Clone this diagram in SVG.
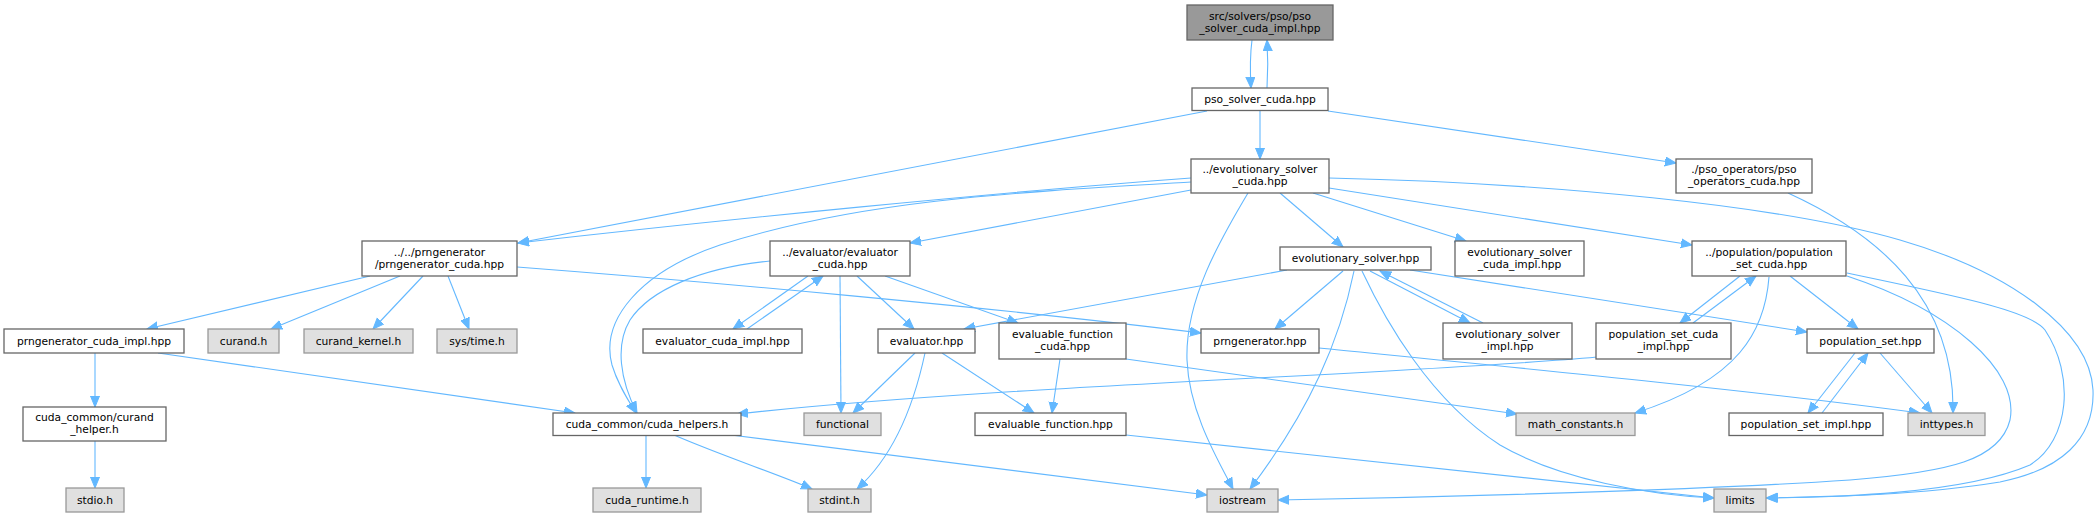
<svg xmlns="http://www.w3.org/2000/svg" width="2100" height="517" viewBox="0 0 2100 517">
<style>
.n rect{fill:#ffffff;stroke:#666666;stroke-width:1.3}
.x rect{fill:#e0e0e0;stroke:#999999;stroke-width:1.3}
.m rect{fill:#999999;stroke:#666666;stroke-width:1.3}
text{font-family:"DejaVu Sans",sans-serif;font-size:10.7px;fill:#000000;text-anchor:middle}
#edges path{fill:none;stroke:#63b8ff;stroke-width:1.1;marker-end:url(#a)}
</style>
<defs>
<marker id="a" markerWidth="13" markerHeight="11" refX="11" refY="5" orient="auto" markerUnits="userSpaceOnUse">
<path d="M0,0.5 L11,5 L0,9.5 z" fill="#63b8ff" stroke="#63b8ff" stroke-width="1"/>
</marker>
</defs>
<rect width="2100" height="517" fill="#ffffff"/>
<g id="edges">
<path d="M1252,40 C1250,55 1250,70 1251,88"/>
<path d="M1267,88 C1268,72 1268,56 1267,40"/>
<path d="M1260,110 L1260,159"/>
<path d="M1207,111 L518,243"/>
<path d="M1328,111 L1676,163"/>
<path d="M1191,178 C1000,192 720,220 518,243"/>
<path d="M1191,182 C1020,192 860,200 720,245 C640,272 600,320 612,365 C618,385 628,400 636,413"/>
<path d="M770,261 C700,268 650,290 630,320 C615,345 620,380 637,413"/>
<path d="M1191,190 L910,243"/>
<path d="M1248,193 C1220,240 1185,300 1187,360 C1189,410 1215,455 1233,489"/>
<path d="M1280,193 L1343,247"/>
<path d="M1313,193 L1466,241"/>
<path d="M1329,188 L1692,245"/>
<path d="M1329,178 C1550,183 1780,205 1900,240 C2010,272 2090,330 2093,390 C2095,440 2060,470 2000,482 C1920,495 1830,497 1766,498"/>
<path d="M370,276 L147,329"/>
<path d="M400,276 L271,329"/>
<path d="M423,276 L373,329"/>
<path d="M448,276 L469,329"/>
<path d="M517,267 C700,281 1000,308 1201,333"/>
<path d="M95,353 L95,407"/>
<path d="M158,353 L575,413"/>
<path d="M95,441 L95,488"/>
<path d="M646,435 L646,488"/>
<path d="M674,435 C720,455 780,475 812,489"/>
<path d="M731,435 L1207,495"/>
<path d="M808,276 L733,329"/>
<path d="M840,276 L841,413"/>
<path d="M857,276 L914,329"/>
<path d="M885,276 L1018,323"/>
<path d="M747,329 L823,276"/>
<path d="M915,353 L853,413"/>
<path d="M925,353 C915,400 895,455 857,489"/>
<path d="M942,353 L1034,413"/>
<path d="M1060,359 L1052,413"/>
<path d="M1126,359 L1517,414"/>
<path d="M1126,435 L1714,498"/>
<path d="M1287,270 L964,329"/>
<path d="M1343,271 L1275,329"/>
<path d="M1354,271 C1340,340 1310,410 1250,489"/>
<path d="M1362,271 C1385,320 1430,400 1500,445 C1560,480 1650,495 1714,498"/>
<path d="M1370,271 L1470,323"/>
<path d="M1483,323 L1380,271"/>
<path d="M1410,270 L1807,332"/>
<path d="M1319,348 C1500,366 1750,390 1920,413"/>
<path d="M1740,276 L1680,323"/>
<path d="M1693,323 L1756,276"/>
<path d="M1790,276 L1858,329"/>
<path d="M1769,277 C1765,330 1740,380 1635,413"/>
<path d="M1847,276 C1950,310 2020,370 2010,420 C2000,460 1950,472 1850,480 C1700,490 1450,497 1278,500"/>
<path d="M1847,273 C1950,295 2030,310 2045,330 C2075,375 2070,440 2030,465 C1960,495 1830,497 1767,498"/>
<path d="M1597,357 C1400,375 1000,385 737,414"/>
<path d="M1880,353 L1932,413"/>
<path d="M1855,353 L1808,413"/>
<path d="M1822,413 L1868,353"/>
<path d="M1788,193 C1880,235 1955,300 1953,413"/>
</g>
<g id="main" class="m"><rect x="1187" y="5" width="146" height="35"/><text x="1260" y="19.5">src/solvers/pso/pso</text><text x="1260" y="31.5">_solver_cuda_impl.hpp</text></g>
<g id="pso_solver_cuda" class="n"><rect x="1192" y="88" width="136" height="22.5"/><text x="1260" y="103">pso_solver_cuda.hpp</text></g>
<g id="evolutionary_solver_cuda" class="n"><rect x="1191" y="159" width="138" height="34"/><text x="1260" y="173">../evolutionary_solver</text><text x="1260" y="185">_cuda.hpp</text></g>
<g id="pso_operators_cuda" class="n"><rect x="1676" y="159" width="136" height="34"/><text x="1744" y="173">./pso_operators/pso</text><text x="1744" y="185">_operators_cuda.hpp</text></g>
<g id="prngenerator_cuda" class="n"><rect x="362" y="241" width="155" height="35"/><text x="439.5" y="255.5">../../prngenerator</text><text x="439.5" y="267.5">/prngenerator_cuda.hpp</text></g>
<g id="evaluator_cuda" class="n"><rect x="770" y="241" width="140" height="35"/><text x="840" y="255.5">../evaluator/evaluator</text><text x="840" y="267.5">_cuda.hpp</text></g>
<g id="evolutionary_solver" class="n"><rect x="1280" y="247" width="151" height="23"/><text x="1355.5" y="262.3">evolutionary_solver.hpp</text></g>
<g id="evolutionary_solver_cuda_impl" class="n"><rect x="1455" y="241" width="129" height="35"/><text x="1519.5" y="255.5">evolutionary_solver</text><text x="1519.5" y="267.5">_cuda_impl.hpp</text></g>
<g id="population_set_cuda" class="n"><rect x="1692" y="241" width="154" height="35"/><text x="1769" y="255.5">../population/population</text><text x="1769" y="267.5">_set_cuda.hpp</text></g>
<g id="prngenerator_cuda_impl" class="n"><rect x="4" y="329" width="180" height="24"/><text x="94" y="344.8">prngenerator_cuda_impl.hpp</text></g>
<g id="curand" class="x"><rect x="208" y="329" width="71" height="24"/><text x="243.5" y="344.8">curand.h</text></g>
<g id="curand_kernel" class="x"><rect x="304" y="329" width="109" height="24"/><text x="358.5" y="344.8">curand_kernel.h</text></g>
<g id="sys_time" class="x"><rect x="437" y="329" width="80" height="24"/><text x="477" y="344.8">sys/time.h</text></g>
<g id="evaluator_cuda_impl" class="n"><rect x="643" y="329" width="159" height="24"/><text x="722.5" y="344.8">evaluator_cuda_impl.hpp</text></g>
<g id="evaluator" class="n"><rect x="878" y="329" width="97" height="24"/><text x="926.5" y="344.8">evaluator.hpp</text></g>
<g id="evaluable_function_cuda" class="n"><rect x="999" y="323" width="127" height="36"/><text x="1062.5" y="338">evaluable_function</text><text x="1062.5" y="350">_cuda.hpp</text></g>
<g id="prngenerator" class="n"><rect x="1201" y="329" width="118" height="24"/><text x="1260" y="344.8">prngenerator.hpp</text></g>
<g id="evolutionary_solver_impl" class="n"><rect x="1443" y="323" width="129" height="36"/><text x="1507.5" y="338">evolutionary_solver</text><text x="1507.5" y="350">_impl.hpp</text></g>
<g id="population_set_cuda_impl" class="n"><rect x="1596" y="323" width="135" height="36"/><text x="1663.5" y="338">population_set_cuda</text><text x="1663.5" y="350">_impl.hpp</text></g>
<g id="population_set" class="n"><rect x="1807" y="329" width="127" height="24"/><text x="1870.5" y="344.8">population_set.hpp</text></g>
<g id="curand_helper" class="n"><rect x="23" y="407" width="143" height="34"/><text x="94.5" y="421">cuda_common/curand</text><text x="94.5" y="433">_helper.h</text></g>
<g id="cuda_helpers" class="n"><rect x="553" y="413" width="188" height="22.5"/><text x="647" y="428">cuda_common/cuda_helpers.h</text></g>
<g id="functional" class="x"><rect x="804" y="413" width="77" height="22.5"/><text x="842.5" y="428">functional</text></g>
<g id="evaluable_function" class="n"><rect x="975" y="413" width="151" height="22.5"/><text x="1050.5" y="428">evaluable_function.hpp</text></g>
<g id="math_constants" class="x"><rect x="1516" y="413" width="119" height="22.5"/><text x="1575.5" y="428">math_constants.h</text></g>
<g id="population_set_impl" class="n"><rect x="1729" y="413" width="154" height="22.5"/><text x="1806" y="428">population_set_impl.hpp</text></g>
<g id="inttypes" class="x"><rect x="1908" y="413" width="77" height="22.5"/><text x="1946.5" y="428">inttypes.h</text></g>
<g id="stdio" class="x"><rect x="66" y="488" width="58" height="24"/><text x="95" y="503.8">stdio.h</text></g>
<g id="cuda_runtime" class="x"><rect x="593" y="488" width="108" height="24"/><text x="647" y="503.8">cuda_runtime.h</text></g>
<g id="stdint" class="x"><rect x="808" y="489" width="63" height="23"/><text x="839.5" y="504.3">stdint.h</text></g>
<g id="iostream" class="x"><rect x="1207" y="489" width="71" height="23"/><text x="1242.5" y="504.3">iostream</text></g>
<g id="limits" class="x"><rect x="1714" y="489" width="52" height="23"/><text x="1740" y="504.3">limits</text></g>
</svg>
